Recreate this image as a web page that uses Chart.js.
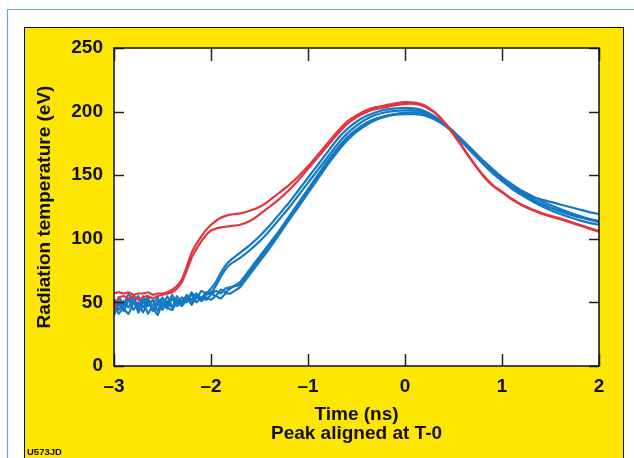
<!DOCTYPE html>
<html>
<head>
<meta charset="utf-8">
<script src="https://cdn.jsdelivr.net/npm/chart.js@4/dist/chart.umd.min.js"></script>
<style>
  body { margin: 0; background: #fff; }
  canvas { display: block; }
</style>
</head>
<body>
<canvas id="temp-graph" width="634" height="458"></canvas>
<script>
// time axis (ns): fine steps through the noisy foot, then 0.1 ns
var times = [-3,-2.95,-2.9,-2.85,-2.8,-2.75,-2.7,-2.65,-2.6,-2.55,-2.5,-2.45,-2.4,-2.35,-2.3,-2.25,-2.2,-2.15,-2.1,-2.05,-2,-1.95,-1.9,-1.85,-1.8,
  -1.7,-1.6,-1.5,-1.4,-1.3,-1.2,-1.1,-1,-0.9,-0.8,-0.7,-0.6,-0.5,-0.4,-0.3,-0.2,-0.1,0,0.1,0.2,0.3,0.4,0.5,0.6,0.7,0.8,0.9,1,1.1,1.2,1.3,1.4,1.5,1.6,1.7,1.8,1.9,2];

// red shots
var redA = [57,58,57,58,56,57,57,58,56,57,57,58,60,63,68,78,89,96,102,107,111,114,116.5,118,119,
  120,122,125,130,136,142,149,157,166,175,184,192,197,201,203.5,205,206.5,207.5,207,205,200,192,182,171,160,150,142,136.5,131,126.5,123,120,117.5,115.5,113,110.5,108,105.5];
var redB = [44,54,55,53,55,52,54,55,53,55,56,57,58,61,66,75,85,92,98,103,106.5,108,109,109.5,110,
  111,114,119,125,131,138,146,155,164,173,182,190,195.5,199.5,202,203.5,205,206,206,204,199.5,192,182.5,171.5,160.5,150.5,142.5,137,131.5,127,123.5,120.5,118,116,113.5,111,108.5,106];

// blue shots
var blue1 = [46,54,48,57,50,45,55,47,52,43,53,48,56,49,54,50,58,53,59,57,61,66,73,79,83,
  89,95,102,110,119,128,138,148,158,168,178,186,192,196.5,199.5,201.5,202.5,203,202.5,200.5,196.5,190.5,183,175,167,159.5,152,146,141,137,133.5,131,129,127,125,123,121,119.5];
var blue2 = [53,44,51,46,55,42,50,54,44,51,47,55,46,52,48,56,52,57,53,58,58,63,70,76,80,
  85,91,98,106,115,124,134,144,154,164,174,182.5,189,194,197.5,199.5,200.5,201,201,199.5,196,190.5,183.5,176,168,160,152.5,146,140,135,131,127.5,124.5,122,119.5,117,115,113];
var blue3 = [40,49,43,52,55,45,52,41,48,54,44,51,46,55,49,53,50,57,52,56,57,55,60,58,61,
  66,76,86,96,106,117,128,139,150,161,171,179.5,186,191,194.5,196.5,198,199,199,198,195,190,183.5,176,168.5,161,153.5,147,141,136,132,128,124.5,121.5,119,117,115.5,114];
var blue4 = [49,41,47,53,44,50,42,51,46,40,50,45,53,47,51,55,48,55,51,54,52,55,53,57,57,
  62,72,82,92,103,114,125,136,147,158,168,177,184,189.5,193.5,196,197.5,198,198,197,194,189.5,183,175.5,167.5,159.5,152,145.5,139.5,134.5,130,126,122.5,119.5,117,114.5,112.5,111];
var blue5 = [43,51,45,41,50,55,46,52,43,48,54,46,44,51,47,52,56,50,54,52,56,59,57,61,62,
  64,74,84,94,104.5,115.5,126.5,137.5,148.5,159.5,169.5,178,185,190,194,196.5,198,199,199.5,198.5,195.5,191,184.5,177,169.5,162,155,148.5,143,138,134,130,126.5,123.5,120.5,118,115.5,113.5];

var xTicks = [-3, -2, -1, 0, 1, 2];
var yTicks = [0, 50, 100, 150, 200, 250];

const RED = "#e2343f";
const BLUE = "#1479c2";
const FONT = "'Liberation Sans', Arial, sans-serif";

function pts(arr) {
  return times.map((t, i) => ({x: t, y: arr[i]}));
}
function line(arr, color) {
  return { data: pts(arr), borderColor: color, borderWidth: 2.2, pointRadius: 0, tension: 0.1, fill: false };
}

// yellow panel, frame and inward ticks
const frame = {
  id: 'frame',
  beforeDraw(chart) {
    const c = chart.ctx, a = chart.chartArea;
    c.save();
    c.fillStyle = '#fff';
    c.fillRect(0, 0, chart.width, chart.height);
    c.strokeStyle = '#5aaae0';
    c.lineWidth = 1.2;
    c.beginPath();
    c.moveTo(7.5, 458); c.lineTo(7.5, 9.5); c.lineTo(634, 9.5);
    c.stroke();
    c.fillStyle = '#ffe600';
    c.fillRect(24, 27, 599, 431);
    c.strokeStyle = '#111';
    c.lineWidth = 1;
    c.beginPath();
    c.moveTo(24.5, 458); c.lineTo(24.5, 27.5); c.lineTo(623.5, 27.5); c.lineTo(623.5, 458);
    c.stroke();
    c.fillStyle = '#fff';
    c.fillRect(a.left, a.top, a.right - a.left, a.bottom - a.top);
    c.fillStyle = '#111';
    c.font = "bold 9.5px " + FONT;
    c.textBaseline = 'alphabetic';
    c.fillText('U573JD', 27, 455);
    c.restore();
  },
  afterDraw(chart) {
    const c = chart.ctx, a = chart.chartArea;
    const xs = chart.scales.x, ys = chart.scales.y;
    c.save();
    c.strokeStyle = '#222';
    c.lineWidth = 1.5;
    xTicks.forEach(v => {
      const px = Math.round(xs.getPixelForValue(v)) + 0.5;
      c.beginPath();
      c.moveTo(px, a.top); c.lineTo(px, a.top + 13);
      c.moveTo(px, a.bottom); c.lineTo(px, a.bottom - 12);
      c.stroke();
    });
    yTicks.forEach(v => {
      const py = Math.round(ys.getPixelForValue(v)) + 0.5;
      c.beginPath();
      c.moveTo(a.left, py); c.lineTo(a.left + 10, py);
      c.moveTo(a.right, py); c.lineTo(a.right - 10, py);
      c.stroke();
    });
    c.strokeStyle = '#111';
    c.lineWidth = 1.5;
    c.strokeRect(a.left, a.top, a.right - a.left, a.bottom - a.top);
    c.restore();
  }
};

new Chart(document.getElementById("temp-graph"), {
  type: 'line',
  data: {
    datasets: [
      line(redA, RED), line(redB, RED),
      line(blue1, BLUE), line(blue2, BLUE), line(blue3, BLUE), line(blue4, BLUE), line(blue5, BLUE)
    ]
  },
  options: {
    responsive: false,
    animation: false,
    layout: { padding: { top: 48, right: 35, bottom: 0, left: 0 } },
    plugins: { legend: { display: false }, tooltip: { enabled: false } },
    scales: {
      x: {
        type: 'linear', min: -3, max: 2,
        afterFit: s => { s.height = 92; },
        afterBuildTicks: s => { s.ticks = xTicks.map(v => ({value: v})); },
        grid: { display: false, drawTicks: false },
        border: { display: false },
        ticks: {
          padding: 9, color: '#111',
          font: { family: FONT, size: 19, weight: 'bold' },
          callback: v => String(v).replace('-', '\u2013')
        },
        title: {
          display: true, text: ['Time (ns)', 'Peak aligned at T-0'], color: '#111',
          font: { family: FONT, size: 19, weight: 'bold', lineHeight: 1.0 },
          padding: { top: 0, bottom: 15 }
        }
      },
      y: {
        min: 0, max: 250,
        afterFit: s => { s.width = 114; },
        afterBuildTicks: s => { s.ticks = yTicks.map(v => ({value: v})); },
        grid: { display: false, drawTicks: false },
        border: { display: false },
        ticks: {
          padding: 11, color: '#111',
          font: { family: FONT, size: 19, weight: 'bold' }
        },
        title: {
          display: true, text: 'Radiation temperature (eV)', color: '#111',
          font: { family: FONT, size: 19, weight: 'bold', lineHeight: 1.0 },
          padding: { top: 35, bottom: 0 }
        }
      }
    }
  },
  plugins: [frame]
});
</script>
</body>
</html>
